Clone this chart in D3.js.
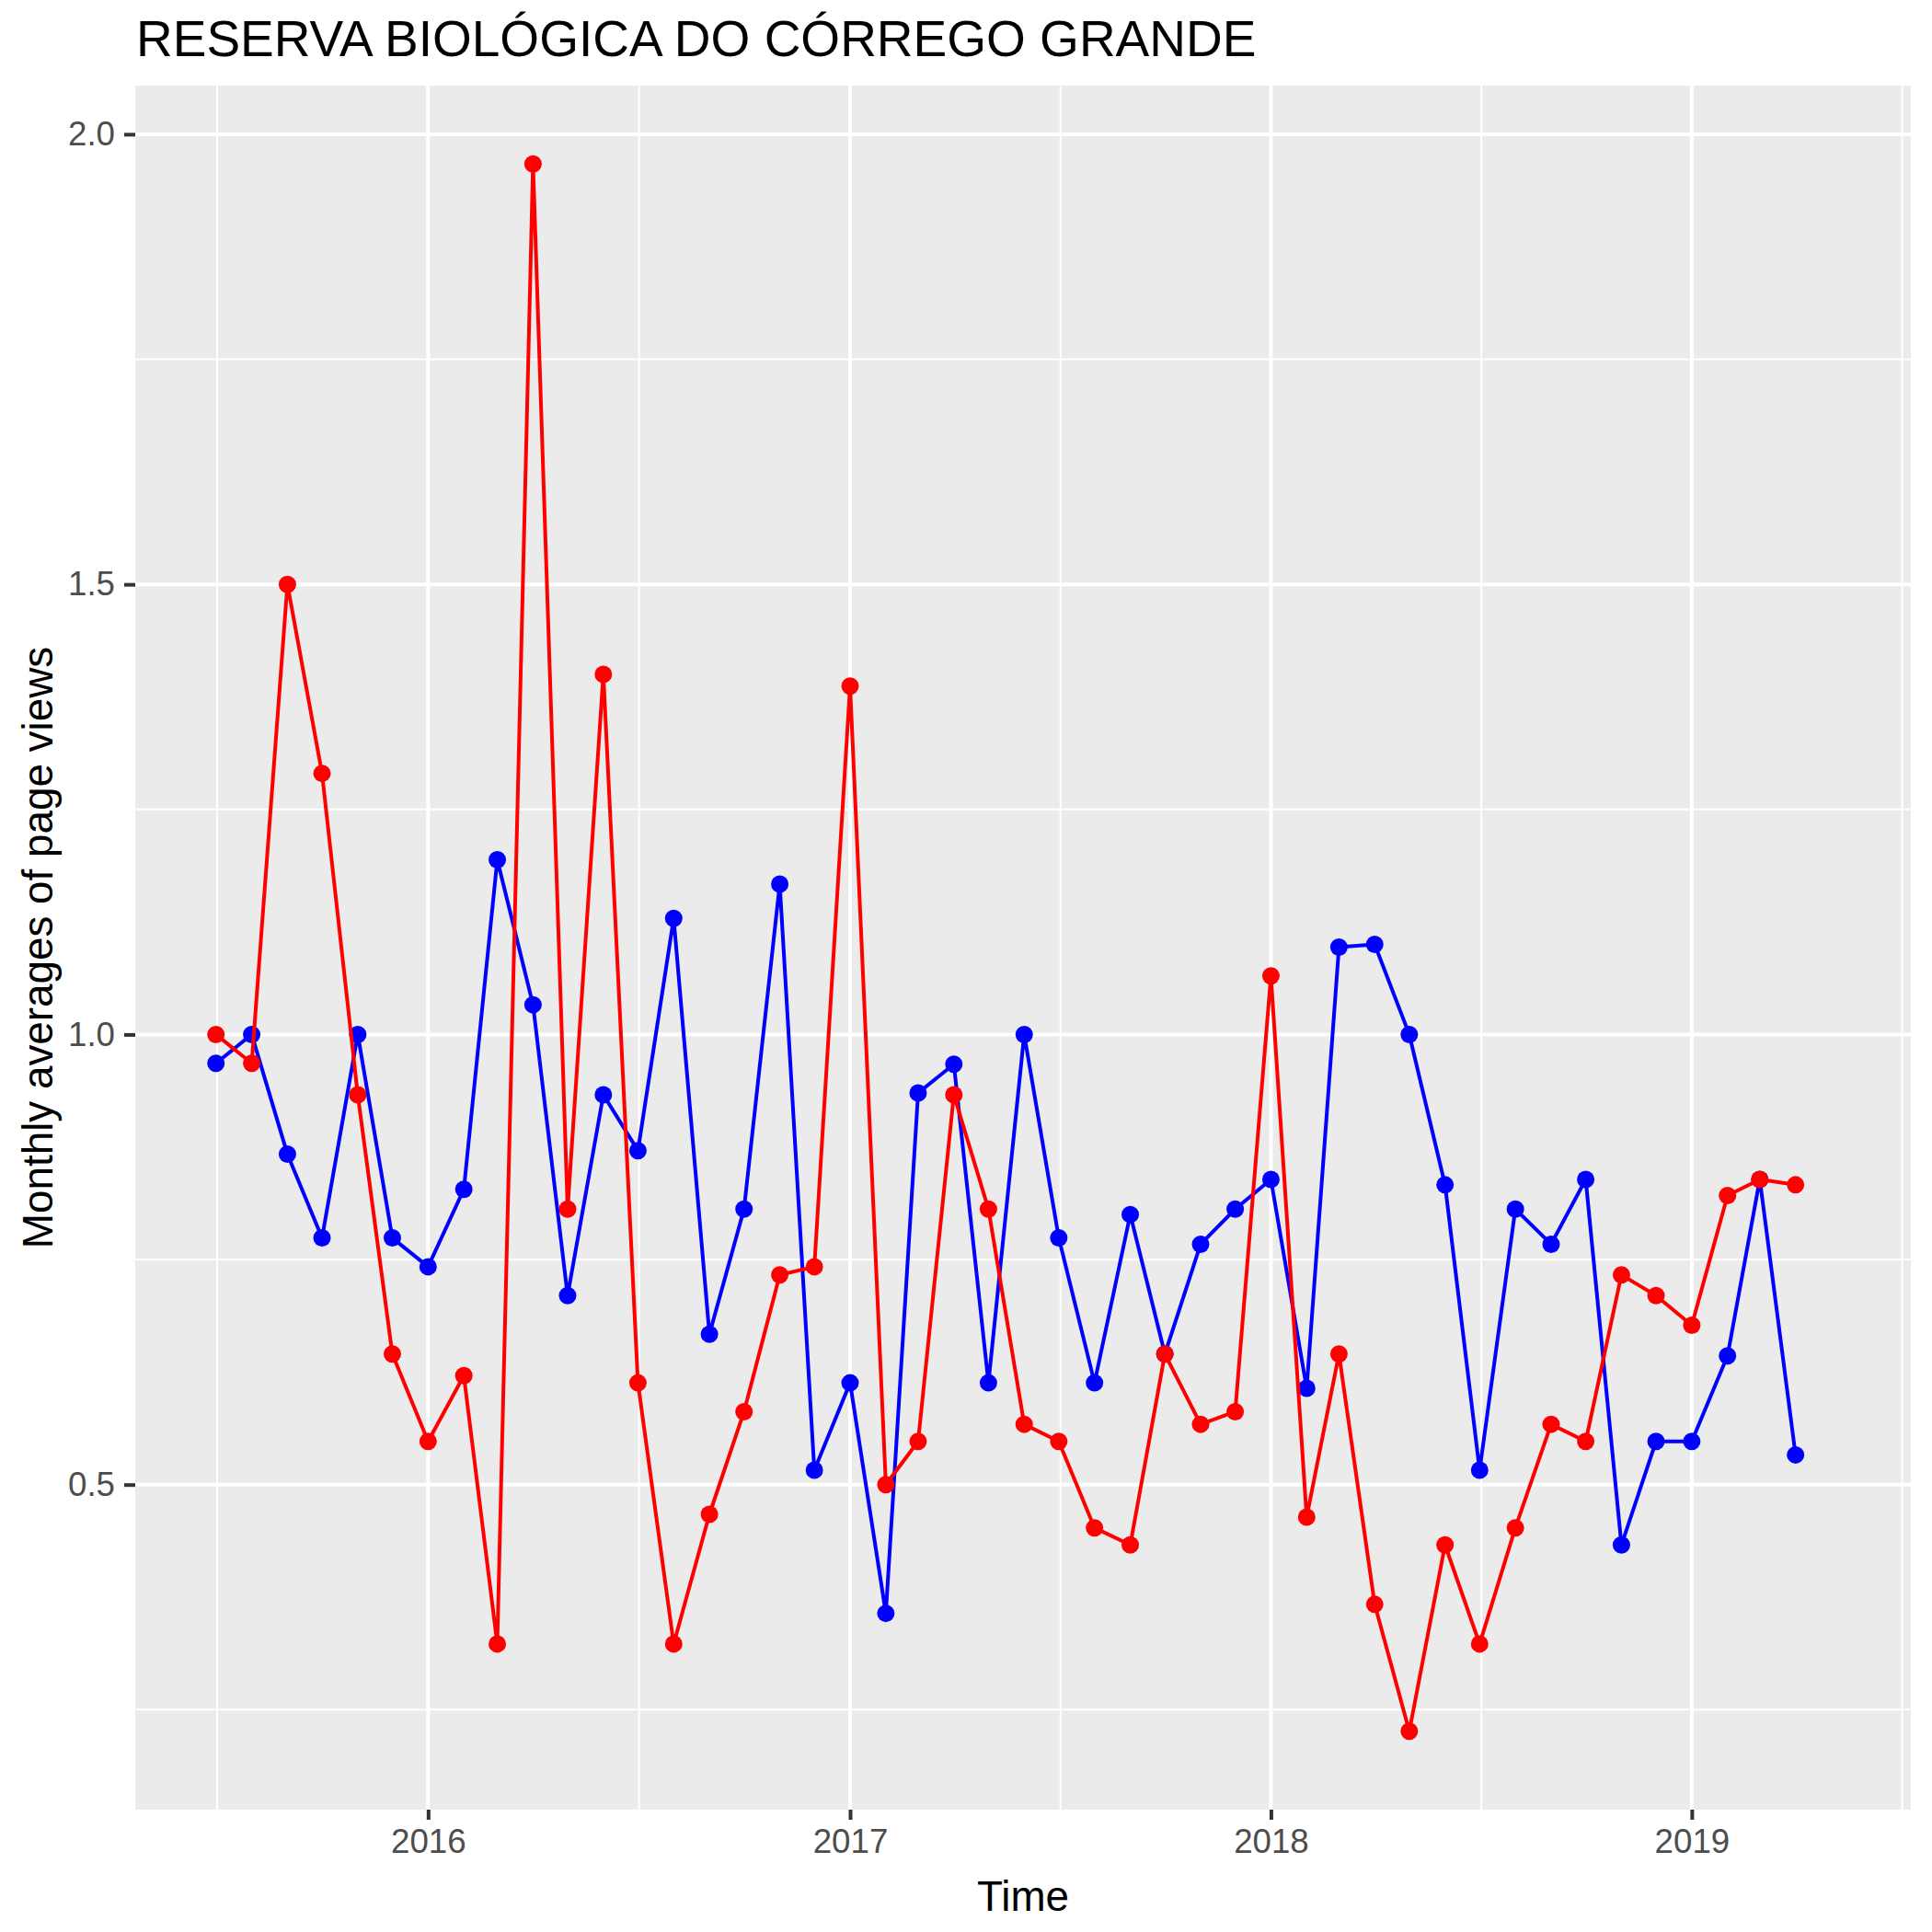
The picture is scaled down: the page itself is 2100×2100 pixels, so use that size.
<!DOCTYPE html>
<html>
<head>
<meta charset="utf-8">
<script src="https://cdn.jsdelivr.net/npm/d3@7"></script>
<style>
  html, body { margin: 0; padding: 0; background: #fff; }
  svg { display: block; font-family: "Liberation Sans", Arial, sans-serif; }
</style>
</head>
<body>
<svg id="chart" width="2100" height="2100"></svg>
<script>
// ---------------- data ----------------
const titleText = "RESERVA BIOLÓGICA DO CÓRREGO GRANDE";
const xTitle = "Time";
const yTitle = "Monthly averages of page views";

const months = [
  "2015-07","2015-08","2015-09","2015-10","2015-11","2015-12",
  "2016-01","2016-02","2016-03","2016-04","2016-05","2016-06",
  "2016-07","2016-08","2016-09","2016-10","2016-11","2016-12",
  "2017-01","2017-02","2017-03","2017-04","2017-05","2017-06",
  "2017-07","2017-08","2017-09","2017-10","2017-11","2017-12",
  "2018-01","2018-02","2018-03","2018-04","2018-05","2018-06",
  "2018-07","2018-08","2018-09","2018-10","2018-11","2018-12",
  "2019-01","2019-02","2019-03","2019-04"
];
// last month present in the data frame (no values), used for the scale range
const scaleEndMonth = "2019-05";

const redValues = [
  1.0, 0.968, 1.5, 1.29, 0.933, 0.645,
  0.548, 0.621, 0.323, 1.967, 0.806, 1.4,
  0.613, 0.323, 0.467, 0.581, 0.733, 0.742,
  1.387, 0.5, 0.548, 0.933, 0.806, 0.567,
  0.548, 0.452, 0.433, 0.645, 0.567, 0.581,
  1.065, 0.464, 0.645, 0.367, 0.226, 0.433,
  0.323, 0.452, 0.567, 0.548, 0.733, 0.71,
  0.677, 0.821, 0.839, 0.833
];
const blueValues = [
  0.968, 1.0, 0.867, 0.774, 1.0, 0.774,
  0.742, 0.828, 1.194, 1.033, 0.71, 0.933,
  0.871, 1.129, 0.667, 0.806, 1.167, 0.516,
  0.613, 0.357, 0.935, 0.967, 0.613, 1.0,
  0.774, 0.613, 0.8, 0.645, 0.767, 0.806,
  0.839, 0.607, 1.097, 1.1, 1.0, 0.833,
  0.516, 0.806, 0.767, 0.839, 0.433, 0.548,
  0.548, 0.643, 0.839, 0.533
];
const yTicks = [0.5, 1.0, 1.5, 2.0];
const yTickLabels = ["0.5", "1.0", "1.5", "2.0"];
const xTickYears = [2016, 2017, 2018, 2019];
const xTickLabels = ["2016", "2017", "2018", "2019"];

// ---------------- layout ----------------
const panel = { left: 147, right: 2077, top: 93, bottom: 1967 };
const parse = d3.timeParse("%Y-%m");
const dates = months.map(parse);

const svg = d3.select("#chart");

function expand(ext, mult) {
  const a = +ext[0], b = +ext[1], d = (b - a) * mult;
  return [a - d, b + d];
}
const xExt = expand([dates[0], parse(scaleEndMonth)], 0.05).map(v => new Date(v));
const allVals = redValues.concat(blueValues);
const yExt = expand(d3.extent(allVals), 0.05);

const x = d3.scaleTime().domain(xExt).range([panel.left, panel.right]);
const y = d3.scaleLinear().domain(yExt).range([panel.bottom, panel.top]);

// panel background
svg.append("rect")
  .attr("x", panel.left).attr("y", panel.top)
  .attr("width", panel.right - panel.left).attr("height", panel.bottom - panel.top)
  .attr("fill", "#EBEBEB");

const grid = svg.append("g");
// minor y grid
const yMinor = [];
for (let i = 0; i < yTicks.length; i++) {
  const step = i > 0 ? yTicks[i] - yTicks[i - 1] : yTicks[1] - yTicks[0];
  yMinor.push(yTicks[i] - step / 2);
}
yMinor.filter(v => v > yExt[0] && v < yExt[1]).forEach(v => {
  grid.append("line").attr("x1", panel.left).attr("x2", panel.right)
    .attr("y1", y(v)).attr("y2", y(v))
    .attr("stroke", "#fff").attr("stroke-width", 2);
});
// minor x grid (midpoints between major breaks, extended)
const xMajorDates = xTickYears.map(yr => new Date(yr, 0, 1));
const xMajorPx = xMajorDates.map(d => x(d));
const xMinorPx = [];
for (let i = 0; i <= xMajorPx.length; i++) {
  let p;
  if (i === 0) p = xMajorPx[0] - (xMajorPx[1] - xMajorPx[0]) / 2;
  else if (i === xMajorPx.length) p = xMajorPx[i - 1] + (xMajorPx[i - 1] - xMajorPx[i - 2]) / 2;
  else p = (xMajorPx[i - 1] + xMajorPx[i]) / 2;
  xMinorPx.push(p);
}
xMinorPx.filter(p => p > panel.left && p < panel.right).forEach(p => {
  grid.append("line").attr("y1", panel.top).attr("y2", panel.bottom)
    .attr("x1", p).attr("x2", p)
    .attr("stroke", "#fff").attr("stroke-width", 2);
});
// major grid
yTicks.forEach(v => {
  grid.append("line").attr("x1", panel.left).attr("x2", panel.right)
    .attr("y1", y(v)).attr("y2", y(v))
    .attr("stroke", "#fff").attr("stroke-width", 4);
});
xMajorDates.forEach(d => {
  grid.append("line").attr("y1", panel.top).attr("y2", panel.bottom)
    .attr("x1", x(d)).attr("x2", x(d))
    .attr("stroke", "#fff").attr("stroke-width", 4);
});

// ---------------- axes ----------------
const yAxis = d3.axisLeft(y).tickValues(yTicks)
  .tickFormat((d, i) => yTickLabels[i]).tickSize(12).tickPadding(10);
const gy = svg.append("g").attr("transform", `translate(${panel.left},0)`).call(yAxis);
gy.select(".domain").remove();
gy.selectAll(".tick line").attr("stroke", "#333333").attr("stroke-width", 4);
gy.selectAll(".tick text").attr("fill", "#4D4D4D").attr("font-size", 36.7)
  .attr("font-family", "Liberation Sans, Arial, sans-serif");

const xAxis = d3.axisBottom(x).tickValues(xMajorDates)
  .tickFormat((d, i) => xTickLabels[i]).tickSize(11).tickPadding(10);
const gx = svg.append("g").attr("transform", `translate(0,${panel.bottom})`).call(xAxis);
gx.select(".domain").remove();
gx.selectAll(".tick line").attr("stroke", "#333333").attr("stroke-width", 4);
gx.selectAll(".tick text").attr("fill", "#4D4D4D").attr("font-size", 36.7)
  .attr("font-family", "Liberation Sans, Arial, sans-serif");

// ---------------- series ----------------
const line = d3.line().x((d, i) => x(dates[i])).y(d => y(d));
function drawSeries(vals, color) {
  svg.append("path").datum(vals)
    .attr("d", line).attr("fill", "none")
    .attr("stroke", color).attr("stroke-width", 4)
    .attr("stroke-linejoin", "round");
  svg.append("g").selectAll("circle").data(vals).join("circle")
    .attr("cx", (d, i) => x(dates[i])).attr("cy", d => y(d))
    .attr("r", 9.5).attr("fill", color);
}
drawSeries(blueValues, "#0000FF");
drawSeries(redValues, "#FF0000");

// ---------------- titles ----------------
svg.append("text").attr("x", 148).attr("y", 61)
  .attr("font-size", 55).attr("fill", "#000").text(titleText);
svg.append("text").attr("x", (panel.left + panel.right) / 2).attr("y", 2077)
  .attr("text-anchor", "middle").attr("font-size", 45.8).attr("fill", "#000").text(xTitle);
svg.append("text").attr("transform", `translate(57,${(panel.top + panel.bottom) / 2}) rotate(-90)`)
  .attr("text-anchor", "middle").attr("font-size", 45.8).attr("fill", "#000").text(yTitle);
</script>
</body>
</html>
